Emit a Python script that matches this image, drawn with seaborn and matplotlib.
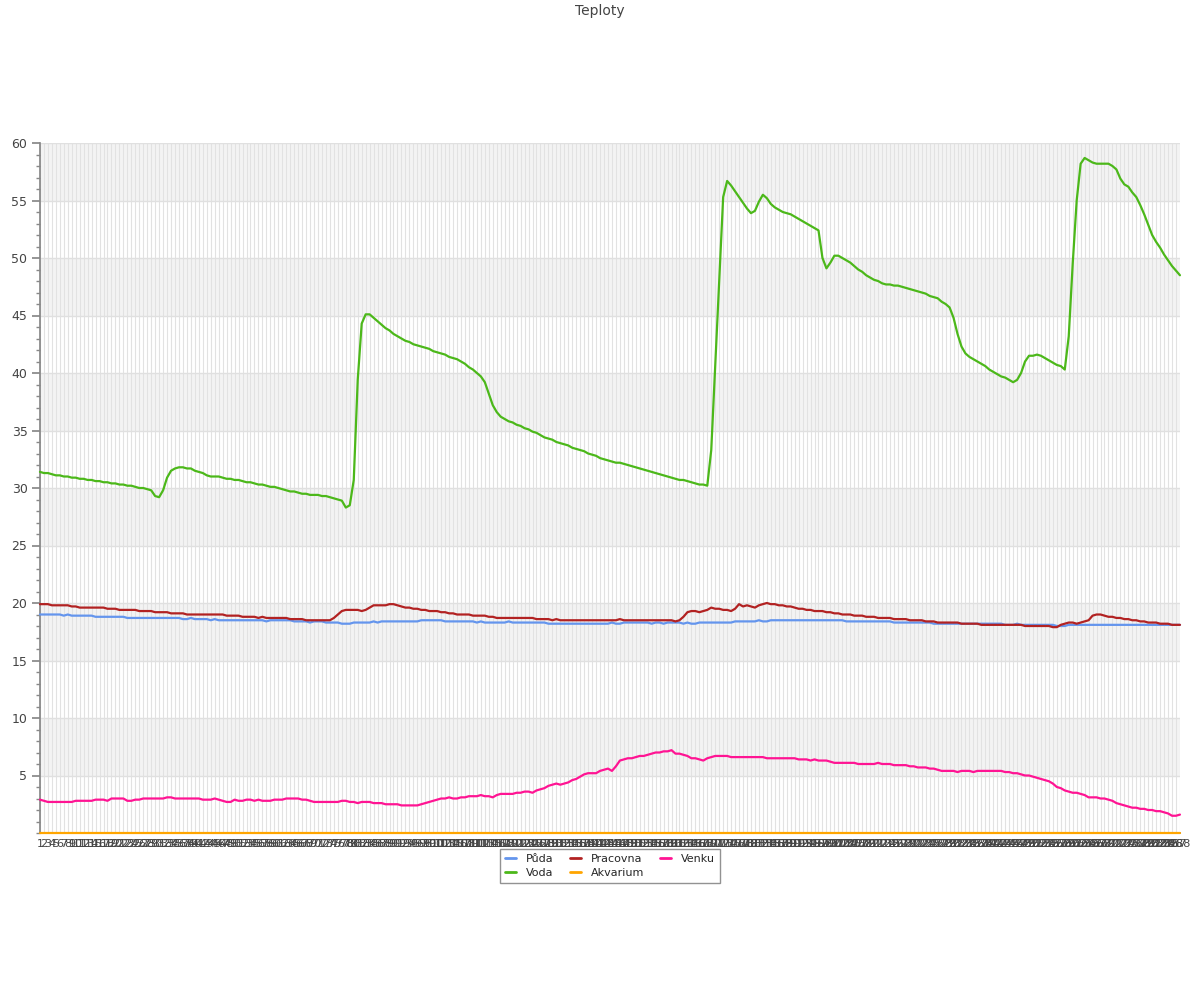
# -*- coding: utf-8 -*-
"""
Teploty - line chart of temperatures (five sensors, 288 readings)
"""

###############################################################################

### 1. Imports

import numpy as np
import pandas as pd
import seaborn as sns
import matplotlib.pyplot as plt
from matplotlib.ticker import MultipleLocator

sns.set_theme(style="white")
plt.rcParams['font.family'] = ['DejaVu Sans']

###############################################################################

### 2. Data

title = "Teploty"
series_names = ["Půda", "Voda", "Pracovna", "Akvarium", "Venku"]
series_colors = ["#6495ed", "#4cb81a", "#b22222", "#ffa500", "#ff1493"]

# x categories 1..288
readings = list(range(1, 289))

puda = [
    19.0, 19.0, 19.0, 19.0, 19.0, 19.0, 18.9, 19.0, 18.9, 18.9, 18.9, 18.9,
    18.9, 18.9, 18.8, 18.8, 18.8, 18.8, 18.8, 18.8, 18.8, 18.8, 18.7, 18.7,
    18.7, 18.7, 18.7, 18.7, 18.7, 18.7, 18.7, 18.7, 18.7, 18.7, 18.7, 18.7,
    18.6, 18.6, 18.7, 18.6, 18.6, 18.6, 18.6, 18.5, 18.6, 18.5, 18.5, 18.5,
    18.5, 18.5, 18.5, 18.5, 18.5, 18.5, 18.5, 18.5, 18.5, 18.4, 18.5, 18.5,
    18.5, 18.5, 18.5, 18.5, 18.4, 18.4, 18.4, 18.4, 18.3, 18.4, 18.4, 18.4,
    18.3, 18.3, 18.3, 18.3, 18.2, 18.2, 18.2, 18.3, 18.3, 18.3, 18.3, 18.3,
    18.4, 18.3, 18.4, 18.4, 18.4, 18.4, 18.4, 18.4, 18.4, 18.4, 18.4, 18.4,
    18.5, 18.5, 18.5, 18.5, 18.5, 18.5, 18.4, 18.4, 18.4, 18.4, 18.4, 18.4,
    18.4, 18.4, 18.3, 18.4, 18.3, 18.3, 18.3, 18.3, 18.3, 18.3, 18.4, 18.3,
    18.3, 18.3, 18.3, 18.3, 18.3, 18.3, 18.3, 18.3, 18.2, 18.2, 18.2, 18.2,
    18.2, 18.2, 18.2, 18.2, 18.2, 18.2, 18.2, 18.2, 18.2, 18.2, 18.2, 18.2,
    18.3, 18.2, 18.2, 18.3, 18.3, 18.3, 18.3, 18.3, 18.3, 18.3, 18.2, 18.3,
    18.3, 18.2, 18.3, 18.3, 18.3, 18.3, 18.2, 18.3, 18.2, 18.2, 18.3, 18.3,
    18.3, 18.3, 18.3, 18.3, 18.3, 18.3, 18.3, 18.4, 18.4, 18.4, 18.4, 18.4,
    18.4, 18.5, 18.4, 18.4, 18.5, 18.5, 18.5, 18.5, 18.5, 18.5, 18.5, 18.5,
    18.5, 18.5, 18.5, 18.5, 18.5, 18.5, 18.5, 18.5, 18.5, 18.5, 18.5, 18.4,
    18.4, 18.4, 18.4, 18.4, 18.4, 18.4, 18.4, 18.4, 18.4, 18.4, 18.4, 18.3,
    18.3, 18.3, 18.3, 18.3, 18.3, 18.3, 18.3, 18.3, 18.3, 18.2, 18.2, 18.2,
    18.2, 18.2, 18.2, 18.2, 18.2, 18.2, 18.2, 18.2, 18.2, 18.2, 18.2, 18.2,
    18.2, 18.2, 18.2, 18.1, 18.1, 18.1, 18.2, 18.1, 18.1, 18.1, 18.1, 18.1,
    18.1, 18.1, 18.1, 18.1, 18.0, 18.0, 18.0, 18.1, 18.1, 18.1, 18.1, 18.1,
    18.1, 18.1, 18.1, 18.1, 18.1, 18.1, 18.1, 18.1, 18.1, 18.1, 18.1, 18.1,
    18.1, 18.1, 18.1, 18.1, 18.1, 18.1, 18.1, 18.1, 18.1, 18.1, 18.1, 18.1,
]

voda = [
    31.4, 31.3, 31.3, 31.2, 31.1, 31.1, 31.0, 31.0, 30.9, 30.9, 30.8, 30.8,
    30.7, 30.7, 30.6, 30.6, 30.5, 30.5, 30.4, 30.4, 30.3, 30.3, 30.2, 30.2,
    30.1, 30.0, 30.0, 29.9, 29.8, 29.3, 29.2, 29.8, 30.9, 31.5, 31.7, 31.8,
    31.8, 31.7, 31.7, 31.5, 31.4, 31.3, 31.1, 31.0, 31.0, 31.0, 30.9, 30.8,
    30.8, 30.7, 30.7, 30.6, 30.5, 30.5, 30.4, 30.3, 30.3, 30.2, 30.1, 30.1,
    30.0, 29.9, 29.8, 29.7, 29.7, 29.6, 29.5, 29.5, 29.4, 29.4, 29.4, 29.3,
    29.3, 29.2, 29.1, 29.0, 28.9, 28.3, 28.5, 30.7, 39.4, 44.3, 45.1, 45.1,
    44.8, 44.5, 44.2, 43.9, 43.7, 43.4, 43.2, 43.0, 42.8, 42.7, 42.5, 42.4,
    42.3, 42.2, 42.1, 41.9, 41.8, 41.7, 41.6, 41.4, 41.3, 41.2, 41.0, 40.8,
    40.5, 40.3, 40.0, 39.7, 39.2, 38.2, 37.2, 36.6, 36.2, 36.0, 35.8, 35.7,
    35.5, 35.4, 35.2, 35.1, 34.9, 34.8, 34.6, 34.4, 34.3, 34.2, 34.0, 33.9,
    33.8, 33.7, 33.5, 33.4, 33.3, 33.2, 33.0, 32.9, 32.8, 32.6, 32.5, 32.4,
    32.3, 32.2, 32.2, 32.1, 32.0, 31.9, 31.8, 31.7, 31.6, 31.5, 31.4, 31.3,
    31.2, 31.1, 31.0, 30.9, 30.8, 30.7, 30.7, 30.6, 30.5, 30.4, 30.3, 30.3,
    30.2, 33.3, 40.6, 48.0, 55.3, 56.7, 56.3, 55.8, 55.3, 54.8, 54.3, 53.9,
    54.1, 54.9, 55.5, 55.2, 54.7, 54.4, 54.2, 54.0, 53.9, 53.8, 53.6, 53.4,
    53.2, 53.0, 52.8, 52.6, 52.4, 50.0, 49.1, 49.6, 50.2, 50.2, 50.0, 49.8,
    49.6, 49.3, 49.0, 48.8, 48.5, 48.3, 48.1, 48.0, 47.8, 47.7, 47.7, 47.6,
    47.6, 47.5, 47.4, 47.3, 47.2, 47.1, 47.0, 46.9, 46.7, 46.6, 46.5, 46.2,
    46.0, 45.7, 44.8, 43.4, 42.3, 41.7, 41.4, 41.2, 41.0, 40.8, 40.6, 40.3,
    40.1, 39.9, 39.7, 39.6, 39.4, 39.2, 39.4, 40.0, 41.0, 41.5, 41.5, 41.6,
    41.5, 41.3, 41.1, 40.9, 40.7, 40.6, 40.3, 43.2, 49.5, 55.0, 58.2, 58.7,
    58.5, 58.3, 58.2, 58.2, 58.2, 58.2, 58.0, 57.7, 56.9, 56.4, 56.2, 55.7,
    55.3, 54.6, 53.8, 52.9, 52.0, 51.4, 50.9, 50.3, 49.8, 49.3, 48.9, 48.5,
]

pracovna = [
    19.9, 19.9, 19.9, 19.8, 19.8, 19.8, 19.8, 19.8, 19.7, 19.7, 19.6, 19.6,
    19.6, 19.6, 19.6, 19.6, 19.6, 19.5, 19.5, 19.5, 19.4, 19.4, 19.4, 19.4,
    19.4, 19.3, 19.3, 19.3, 19.3, 19.2, 19.2, 19.2, 19.2, 19.1, 19.1, 19.1,
    19.1, 19.0, 19.0, 19.0, 19.0, 19.0, 19.0, 19.0, 19.0, 19.0, 19.0, 18.9,
    18.9, 18.9, 18.9, 18.8, 18.8, 18.8, 18.8, 18.7, 18.8, 18.7, 18.7, 18.7,
    18.7, 18.7, 18.7, 18.6, 18.6, 18.6, 18.6, 18.5, 18.5, 18.5, 18.5, 18.5,
    18.5, 18.5, 18.7, 19.0, 19.3, 19.4, 19.4, 19.4, 19.4, 19.3, 19.4, 19.6,
    19.8, 19.8, 19.8, 19.8, 19.9, 19.9, 19.8, 19.7, 19.6, 19.6, 19.5, 19.5,
    19.4, 19.4, 19.3, 19.3, 19.3, 19.2, 19.2, 19.1, 19.1, 19.0, 19.0, 19.0,
    19.0, 18.9, 18.9, 18.9, 18.9, 18.8, 18.8, 18.7, 18.7, 18.7, 18.7, 18.7,
    18.7, 18.7, 18.7, 18.7, 18.7, 18.6, 18.6, 18.6, 18.6, 18.5, 18.6, 18.5,
    18.5, 18.5, 18.5, 18.5, 18.5, 18.5, 18.5, 18.5, 18.5, 18.5, 18.5, 18.5,
    18.5, 18.5, 18.6, 18.5, 18.5, 18.5, 18.5, 18.5, 18.5, 18.5, 18.5, 18.5,
    18.5, 18.5, 18.5, 18.5, 18.4, 18.5, 18.8, 19.2, 19.3, 19.3, 19.2, 19.3,
    19.4, 19.6, 19.5, 19.5, 19.4, 19.4, 19.3, 19.5, 19.9, 19.7, 19.8, 19.7,
    19.6, 19.8, 19.9, 20.0, 19.9, 19.9, 19.8, 19.8, 19.7, 19.7, 19.6, 19.5,
    19.5, 19.4, 19.4, 19.3, 19.3, 19.3, 19.2, 19.2, 19.1, 19.1, 19.0, 19.0,
    19.0, 18.9, 18.9, 18.9, 18.8, 18.8, 18.8, 18.7, 18.7, 18.7, 18.7, 18.6,
    18.6, 18.6, 18.6, 18.5, 18.5, 18.5, 18.5, 18.4, 18.4, 18.4, 18.3, 18.3,
    18.3, 18.3, 18.3, 18.3, 18.2, 18.2, 18.2, 18.2, 18.2, 18.1, 18.1, 18.1,
    18.1, 18.1, 18.1, 18.1, 18.1, 18.1, 18.1, 18.1, 18.0, 18.0, 18.0, 18.0,
    18.0, 18.0, 18.0, 17.9, 17.9, 18.1, 18.2, 18.3, 18.3, 18.2, 18.3, 18.4,
    18.5, 18.9, 19.0, 19.0, 18.9, 18.8, 18.8, 18.7, 18.7, 18.6, 18.6, 18.5,
    18.5, 18.4, 18.4, 18.3, 18.3, 18.3, 18.2, 18.2, 18.2, 18.1, 18.1, 18.1,
]

akvarium = [0.0] * 288

venku = [
    2.9, 2.8, 2.7, 2.7, 2.7, 2.7, 2.7, 2.7, 2.7, 2.8, 2.8, 2.8,
    2.8, 2.8, 2.9, 2.9, 2.9, 2.8, 3.0, 3.0, 3.0, 3.0, 2.8, 2.8,
    2.9, 2.9, 3.0, 3.0, 3.0, 3.0, 3.0, 3.0, 3.1, 3.1, 3.0, 3.0,
    3.0, 3.0, 3.0, 3.0, 3.0, 2.9, 2.9, 2.9, 3.0, 2.9, 2.8, 2.7,
    2.7, 2.9, 2.8, 2.8, 2.9, 2.9, 2.8, 2.9, 2.8, 2.8, 2.8, 2.9,
    2.9, 2.9, 3.0, 3.0, 3.0, 3.0, 2.9, 2.9, 2.8, 2.7, 2.7, 2.7,
    2.7, 2.7, 2.7, 2.7, 2.8, 2.8, 2.7, 2.7, 2.6, 2.7, 2.7, 2.7,
    2.6, 2.6, 2.6, 2.5, 2.5, 2.5, 2.5, 2.4, 2.4, 2.4, 2.4, 2.4,
    2.5, 2.6, 2.7, 2.8, 2.9, 3.0, 3.0, 3.1, 3.0, 3.0, 3.1, 3.1,
    3.2, 3.2, 3.2, 3.3, 3.2, 3.2, 3.1, 3.3, 3.4, 3.4, 3.4, 3.4,
    3.5, 3.5, 3.6, 3.6, 3.5, 3.7, 3.8, 3.9, 4.1, 4.2, 4.3, 4.2,
    4.3, 4.4, 4.6, 4.7, 4.9, 5.1, 5.2, 5.2, 5.2, 5.4, 5.5, 5.6,
    5.4, 5.8, 6.3, 6.4, 6.5, 6.5, 6.6, 6.7, 6.7, 6.8, 6.9, 7.0,
    7.0, 7.1, 7.1, 7.2, 6.9, 6.9, 6.8, 6.7, 6.5, 6.5, 6.4, 6.3,
    6.5, 6.6, 6.7, 6.7, 6.7, 6.7, 6.6, 6.6, 6.6, 6.6, 6.6, 6.6,
    6.6, 6.6, 6.6, 6.5, 6.5, 6.5, 6.5, 6.5, 6.5, 6.5, 6.5, 6.4,
    6.4, 6.4, 6.3, 6.4, 6.3, 6.3, 6.3, 6.2, 6.1, 6.1, 6.1, 6.1,
    6.1, 6.1, 6.0, 6.0, 6.0, 6.0, 6.0, 6.1, 6.0, 6.0, 6.0, 5.9,
    5.9, 5.9, 5.9, 5.8, 5.8, 5.7, 5.7, 5.7, 5.6, 5.6, 5.5, 5.4,
    5.4, 5.4, 5.4, 5.3, 5.4, 5.4, 5.4, 5.3, 5.4, 5.4, 5.4, 5.4,
    5.4, 5.4, 5.4, 5.3, 5.3, 5.2, 5.2, 5.1, 5.0, 5.0, 4.9, 4.8,
    4.7, 4.6, 4.5, 4.3, 4.0, 3.9, 3.7, 3.6, 3.5, 3.5, 3.4, 3.3,
    3.1, 3.1, 3.1, 3.0, 3.0, 2.9, 2.8, 2.6, 2.5, 2.4, 2.3, 2.2,
    2.2, 2.1, 2.1, 2.0, 2.0, 1.9, 1.9, 1.8, 1.7, 1.5, 1.5, 1.6,
]

y_ticks = list(range(5, 61, 5))

###############################################################################

### 3. Plot

# long-form table for seaborn
df = pd.concat([
    pd.DataFrame({"mereni": readings, "teplota": vals, "cidlo": name})
    for name, vals in zip(series_names, [puda, voda, pracovna, akvarium, venku])
], ignore_index=True)

fig = plt.figure(figsize=(12, 10), dpi=100)
ax = fig.add_axes([0.0333, 0.167, 0.95, 0.690])

# alternating grey bands
for lo in range(5, 60, 10):
    ax.axhspan(lo, lo + 5, color="#f3f3f3", zorder=0, lw=0)

# grid: one vertical line per reading, horizontal at each major tick
for xv in readings:
    ax.axvline(xv, color="#e2e2e2", lw=0.8, zorder=0.5)
for yv in y_ticks:
    ax.axhline(yv, color="#e0e0e0", lw=1.0, zorder=0.5)

sns.lineplot(data=df, x="mereni", y="teplota", hue="cidlo",
             hue_order=series_names,
             palette=dict(zip(series_names, series_colors)),
             linewidth=1.6, ax=ax, zorder=3, clip_on=False)

ax.set_xlim(readings[0], readings[-1])
ax.set_ylim(0, 60)
ax.set_xlabel("")
ax.set_ylabel("")

ax.set_xticks(readings)
ax.set_xticklabels([str(r) for r in readings], fontsize=8, color="#444444")
ax.tick_params(axis="x", length=0, pad=4)

ax.set_yticks(y_ticks)
ax.set_yticklabels([str(t) for t in y_ticks], fontsize=9, color="#444444")
ax.yaxis.set_minor_locator(MultipleLocator(1))
ax.tick_params(axis="y", which="major", direction="out", length=6,
               color="#888888", left=True, pad=3)
ax.tick_params(axis="y", which="minor", direction="out", length=3,
               color="#888888", left=True)

for side in ["top", "right"]:
    ax.spines[side].set_visible(False)
ax.spines["left"].set_color("#888888")
ax.spines["bottom"].set_color("#888888")

leg = ax.legend(loc="upper center", bbox_to_anchor=(0.5, -0.015), ncol=3,
                fontsize=8, frameon=True, fancybox=False, handlelength=1.0,
                handletextpad=0.9, columnspacing=1.4, borderpad=0.45,
                labelspacing=0.35)
leg.get_frame().set_edgecolor("#777777")
leg.get_frame().set_linewidth(1.0)
for line in leg.get_lines():
    line.set_linewidth(2.0)

fig.suptitle(title, y=0.996, fontsize=10, color="#444444")

plt.savefig("out.png", dpi=100)
